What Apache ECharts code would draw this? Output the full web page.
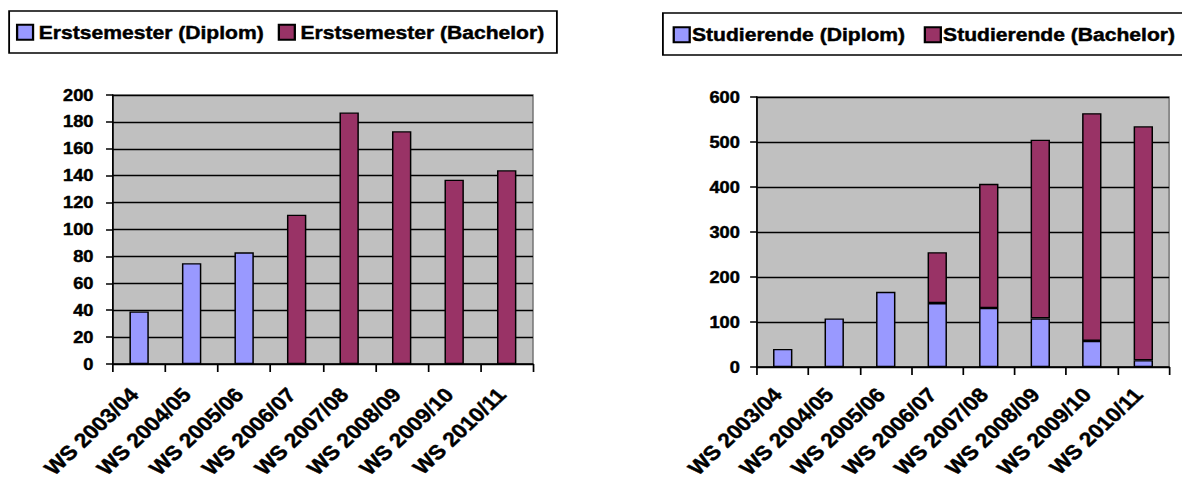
<!DOCTYPE html>
<html>
<head>
<meta charset="utf-8">
<script src="https://cdn.jsdelivr.net/npm/echarts@6/dist/echarts.min.js"></script>
<style>
  html, body { margin: 0; padding: 0; background: #fff; overflow: hidden; }
  #wrap { width: 1182px; height: 486px; overflow: hidden; }
  /* the chart is laid out narrower and widened horizontally, like the wide Excel export it reproduces */
  #c { width: 1037px; height: 486px; transform: scaleX(1.14); transform-origin: 0 0; }
</style>
</head>
<body>
<div id="wrap"><div id="c"></div></div>
<script>
// Semesters
const categories = ['WS 2003/04', 'WS 2004/05', 'WS 2005/06', 'WS 2006/07', 'WS 2007/08', 'WS 2008/09', 'WS 2009/10', 'WS 2010/11'];

// First-year students per winter semester
const erstsemesterDiplom   = [39, 75, 83, null, null, null, null, null];
const erstsemesterBachelor = [null, null, null, 111, 187, 173, 137, 144];

// All enrolled students per winter semester
const studierendeDiplom   = [40, 108, 167, 142, 131, 108, 58, 15];
const studierendeBachelor = [null, null, null, 113, 276, 397, 506, 520];

// Axis ticks
const leftTicks  = { min: 0, max: 200, interval: 20 };
const rightTicks = { min: 0, max: 600, interval: 100 };

const seriesNames = {
  left:  ['Erstsemester (Diplom)', 'Erstsemester (Bachelor)'],
  right: ['Studierende (Diplom)', 'Studierende (Bachelor)']
};

const COL_DIPLOM = '#9999ff';
const COL_BACHELOR = '#993366';
const FONT = '"Liberation Sans", Arial, sans-serif';
// heavy bold text, as in the Excel rendering
const TEXT = { color: '#000', fontFamily: FONT, fontWeight: 'bold', textBorderColor: '#000', textBorderWidth: 0.45 };

function yAxis(gridIndex, ticks, margin) {
  return {
    type: 'value', gridIndex,
    min: ticks.min, max: ticks.max, interval: ticks.interval,
    axisLine: { show: true, lineStyle: { color: '#000', width: 1.5 } },
    axisTick: { show: true, length: 6, lineStyle: { color: '#000', width: 1.5 } },
    axisLabel: Object.assign({ margin, fontSize: 16 }, TEXT),
    splitLine: { show: true, lineStyle: { color: '#000', width: 1.3 } }
  };
}

function xAxis(gridIndex, margin) {
  return {
    type: 'category', gridIndex, data: categories,
    boundaryGap: true,
    axisLine: { show: true, lineStyle: { color: '#000', width: 1.5 } },
    axisTick: { show: true, length: 8, alignWithLabel: false, lineStyle: { color: '#000', width: 1.5 } },
    axisLabel: Object.assign({ interval: 0, rotate: 47, margin, fontSize: 20, padding: [0, 6, 0, 0] }, TEXT),
    splitLine: { show: false }
  };
}

function bar(name, data, color, axisIndex, stack) {
  return {
    name, type: 'bar', data, stack,
    xAxisIndex: axisIndex, yAxisIndex: axisIndex,
    barWidth: 17,
    itemStyle: { color, borderColor: '#000', borderWidth: 1.3 },
    emphasis: { disabled: true },
    animation: false
  };
}

function legend(names, left, top, itemGap, textPad) {
  return {
    data: names.map(n => ({ name: n })),
    left, top, orient: 'horizontal',
    padding: 0, itemGap,
    itemWidth: 14, itemHeight: 15,
    icon: 'rect',
    z: 10,
    selectedMode: false,
    textStyle: Object.assign({ fontSize: 18.5, padding: textPad }, TEXT)
  };
}

const chart = echarts.init(document.getElementById('c'), null, { renderer: 'svg' });

const gridBase = { show: true, backgroundColor: '#c0c0c0', borderColor: '#808080', borderWidth: 1.5, containLabel: false, outerBoundsMode: 'none' };

chart.setOption({
  animation: false,
  backgroundColor: '#fff',
  graphic: [
    { type: 'rect', z: 1, shape: { x: 8, y: 11, width: 480.5, height: 42 },
      style: { fill: '#fff', stroke: '#000', lineWidth: 1.6 } },
    { type: 'rect', z: 1, shape: { x: 581.5, y: 13, width: 480, height: 42 },
      style: { fill: '#fff', stroke: '#000', lineWidth: 1.6 } }
  ],
  legend: [
    legend(seriesNames.left, 14, 22.5, 12, 0),
    legend(seriesNames.right, 590, 25, 16, [0, 0, 0, -3])
  ],
  grid: [
    Object.assign({ left: 99, top: 95, width: 368.5, height: 269 }, gridBase),
    Object.assign({ left: 664, top: 97, width: 361.5, height: 270 }, gridBase)
  ],
  xAxis: [xAxis(0, 23), xAxis(1, 20)],
  yAxis: [yAxis(0, leftTicks, 17), yAxis(1, rightTicks, 15)],
  series: [
    bar(seriesNames.left[0], erstsemesterDiplom, COL_DIPLOM, 0, 'erst'),
    bar(seriesNames.left[1], erstsemesterBachelor, COL_BACHELOR, 0, 'erst'),
    bar(seriesNames.right[0], studierendeDiplom, COL_DIPLOM, 1, 'stud'),
    bar(seriesNames.right[1], studierendeBachelor, COL_BACHELOR, 1, 'stud')
  ]
});
</script>
</body>
</html>
